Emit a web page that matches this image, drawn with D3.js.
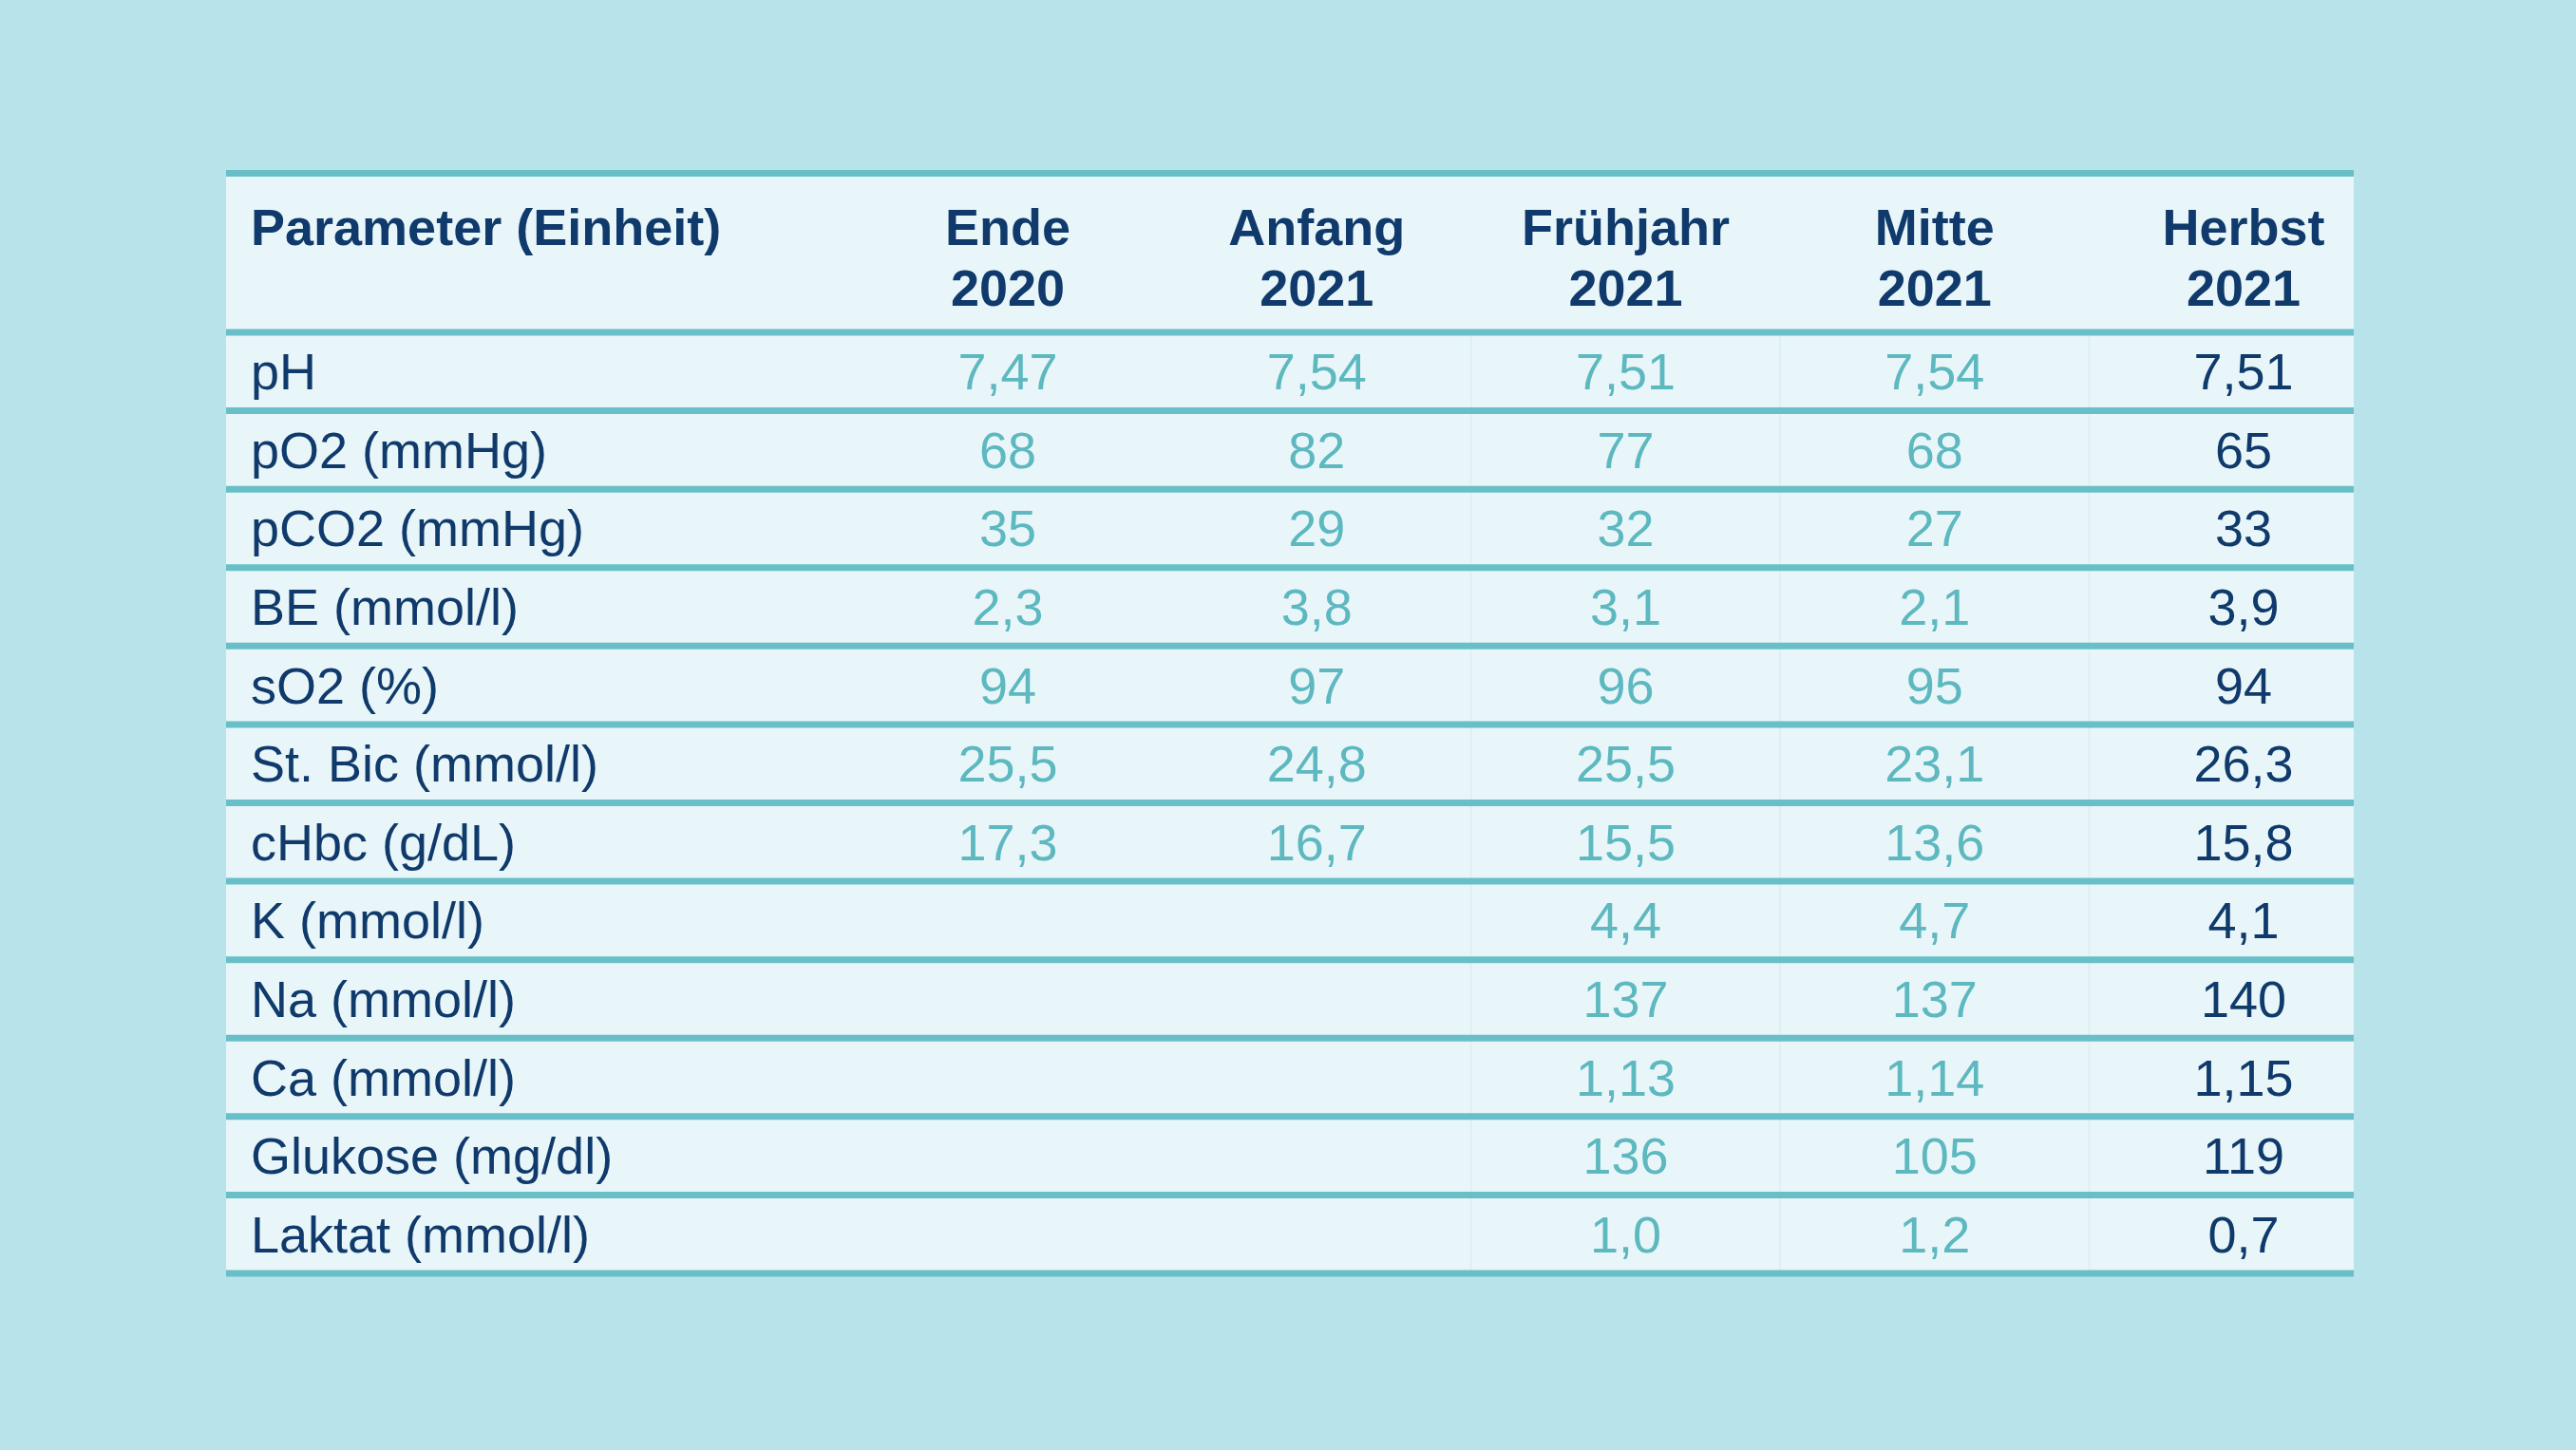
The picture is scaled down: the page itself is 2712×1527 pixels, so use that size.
<!DOCTYPE html>
<html>
<head>
<meta charset="utf-8">
<script src="https://cdn.jsdelivr.net/npm/d3@7"></script>
<style>
  html, body { margin: 0; padding: 0; background: #b9e3ea; }
  svg { display: block; }
</style>
</head>
<body>
<div id="chart"></div>
<script>
// ---- data ----
const parameters = ["pH", "pO2 (mmHg)", "pCO2 (mmHg)", "BE (mmol/l)", "sO2 (%)", "St. Bic (mmol/l)",
  "cHbc (g/dL)", "K (mmol/l)", "Na (mmol/l)", "Ca (mmol/l)", "Glukose (mg/dl)", "Laktat (mmol/l)"];
const periods = [["Ende", "2020"], ["Anfang", "2021"], ["Frühjahr", "2021"], ["Mitte", "2021"], ["Herbst", "2021"]];
const headerLabel = "Parameter (Einheit)";
const ende2020     = ["7,47", "68", "35", "2,3", "94", "25,5", "17,3", null, null, null, null, null];
const anfang2021   = ["7,54", "82", "29", "3,8", "97", "24,8", "16,7", null, null, null, null, null];
const fruehjahr2021= ["7,51", "77", "32", "3,1", "96", "25,5", "15,5", "4,4", "137", "1,13", "136", "1,0"];
const mitte2021    = ["7,54", "68", "27", "2,1", "95", "23,1", "13,6", "4,7", "137", "1,14", "105", "1,2"];
const herbst2021   = ["7,51", "65", "33", "3,9", "94", "26,3", "15,8", "4,1", "140", "1,15", "119", "0,7"];
const series = [ende2020, anfang2021, fruehjahr2021, mitte2021, herbst2021];

// ---- layout ----
const W = 2712, H = 1527;
const tableLeft = 238, tableRight = 2478;
const tableTop = 182.5, headerBottom = 350, tableBottom = 1341;
const lineColor = "#68bfc7", fillColor = "#e9f6f9";
const navy = "#0f3a6b", teal = "#5db8c0";
const font = "'Liberation Sans', Arial, Helvetica, sans-serif";
const fs = 54;

const svg = d3.select("#chart").append("svg").attr("width", W).attr("height", H);
svg.append("rect").attr("width", W).attr("height", H).attr("fill", "#b9e3ea");

const y = d3.scaleBand().domain(parameters).range([headerBottom, tableBottom]).padding(0);
const x = d3.scalePoint().domain(periods.map((d, i) => i)).range([1061, 2362]);
const colStep = x.step();

// table fill
svg.append("rect")
  .attr("x", tableLeft).attr("y", tableTop)
  .attr("width", tableRight - tableLeft).attr("height", tableBottom - tableTop)
  .attr("fill", fillColor);

// faint column separators
svg.append("g").selectAll("line")
  .data(d3.range(1, periods.length - 1))
  .join("line")
  .attr("x1", i => x(i) + colStep / 2).attr("x2", i => x(i) + colStep / 2)
  .attr("y1", headerBottom).attr("y2", tableBottom)
  .attr("stroke", "#dfeff3").attr("stroke-width", 2);

// horizontal lines
const hLines = [tableTop, headerBottom].concat(parameters.map(p => y(p) + y.bandwidth()));
svg.append("g").selectAll("line")
  .data(hLines)
  .join("line")
  .attr("x1", tableLeft).attr("x2", tableRight)
  .attr("y1", d => d).attr("y2", d => d)
  .attr("stroke", lineColor).attr("stroke-width", 7);

// header
const header = svg.append("g").attr("font-family", font).attr("font-weight", "bold")
  .attr("font-size", fs).attr("fill", navy);
header.append("text").attr("x", 264).attr("y", 258).text(headerLabel);
periods.forEach((p, i) => {
  p.forEach((line, j) => {
    header.append("text")
      .attr("x", x(i)).attr("y", 258 + j * 64)
      .attr("text-anchor", "middle")
      .text(line);
  });
});

// row labels
svg.append("g").attr("font-family", font).attr("font-size", fs).attr("fill", navy)
  .selectAll("text").data(parameters).join("text")
  .attr("x", 264)
  .attr("y", d => y(d) + y.bandwidth() / 2 + 19)
  .text(d => d);

// values
series.forEach((vals, i) => {
  svg.append("g").attr("font-family", font).attr("font-size", fs)
    .attr("fill", i === series.length - 1 ? navy : teal)
    .selectAll("text")
    .data(parameters.map((p, k) => ({ p, v: vals[k] })).filter(d => d.v !== null))
    .join("text")
    .attr("x", x(i))
    .attr("y", d => y(d.p) + y.bandwidth() / 2 + 19)
    .attr("text-anchor", "middle")
    .text(d => d.v);
});
</script>
</body>
</html>
